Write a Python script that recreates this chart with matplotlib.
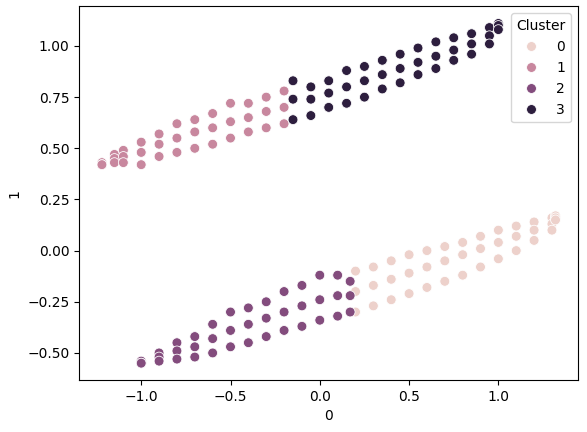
import matplotlib
matplotlib.use("Agg")
import matplotlib.pyplot as plt
import seaborn as sns
import pandas as pd

c1_x = [-1.22,-1.15,-1.1,-1.0,-0.9,-0.8,-0.7,-0.6,-0.5,-0.4,-0.3,-0.2]
c1_top = [0.43,0.47,0.49,0.53,0.57,0.62,0.64,0.67,0.72,0.72,0.75,0.78]
c1_mid = [0.42,0.45,0.46,0.48,0.52,0.55,0.58,0.6,0.63,0.65,0.68,0.7]
c1_low = [0.42,0.43,0.43,0.42,0.46,0.48,0.5,0.52,0.55,0.58,0.6,0.62]

c3_x = [-0.15,-0.05,0.05,0.15,0.25,0.35,0.45,0.55,0.65,0.75,0.85,0.95,1.0]
c3_top = [0.83,0.8,0.83,0.88,0.9,0.93,0.96,0.99,1.02,1.04,1.06,1.09,1.11]
c3_mid = [0.74,0.74,0.77,0.8,0.83,0.86,0.89,0.92,0.95,0.98,1.01,1.05,1.1]
c3_low = [0.64,0.66,0.7,0.72,0.75,0.79,0.82,0.86,0.89,0.93,0.96,1.01,1.08]

c2_x = [-1.0,-0.9,-0.8,-0.7,-0.6,-0.5,-0.4,-0.3,-0.2,-0.1,0.0,0.1,0.17]
c2_top = [-0.54,-0.5,-0.45,-0.42,-0.36,-0.3,-0.28,-0.25,-0.2,-0.17,-0.12,-0.12,-0.15]
c2_mid = [-0.55,-0.52,-0.49,-0.47,-0.43,-0.39,-0.36,-0.33,-0.3,-0.27,-0.24,-0.22,-0.22]
c2_low = [-0.55,-0.54,-0.53,-0.52,-0.5,-0.47,-0.45,-0.42,-0.39,-0.37,-0.34,-0.32,-0.3]

c0_x = [0.2,0.3,0.4,0.5,0.6,0.7,0.8,0.9,1.0,1.1,1.2,1.3,1.32]
c0_top = [-0.1,-0.08,-0.05,-0.02,0.0,0.02,0.04,0.07,0.1,0.12,0.14,0.16,0.17]
c0_mid = [-0.2,-0.17,-0.14,-0.11,-0.08,-0.05,-0.02,0.01,0.04,0.07,0.1,0.13,0.16]
c0_low = [-0.3,-0.27,-0.24,-0.21,-0.18,-0.15,-0.12,-0.08,-0.04,0.0,0.05,0.1,0.15]

rows = []
for cl, xs, ys_list in [(0, c0_x, [c0_top, c0_mid, c0_low]),
                        (1, c1_x, [c1_top, c1_mid, c1_low]),
                        (2, c2_x, [c2_top, c2_mid, c2_low]),
                        (3, c3_x, [c3_top, c3_mid, c3_low])]:
    for ys in ys_list:
        for x, y in zip(xs, ys):
            rows.append((x, y, cl))
df = pd.DataFrame(rows, columns=["0", "1", "Cluster"])

fig, ax = plt.subplots(figsize=(5.87, 4.32), dpi=100)
sns.scatterplot(data=df, x="0", y="1", hue="Cluster", s=50, ax=ax)
ax.set_xticks([-1.0, -0.5, 0.0, 0.5, 1.0])
ax.set_yticks([-0.5, -0.25, 0.0, 0.25, 0.5, 0.75, 1.0])
ax.legend(title="Cluster", loc="upper right")
fig.subplots_adjust(left=0.135, right=0.985, top=0.985, bottom=0.12)
fig.savefig("out.png")
